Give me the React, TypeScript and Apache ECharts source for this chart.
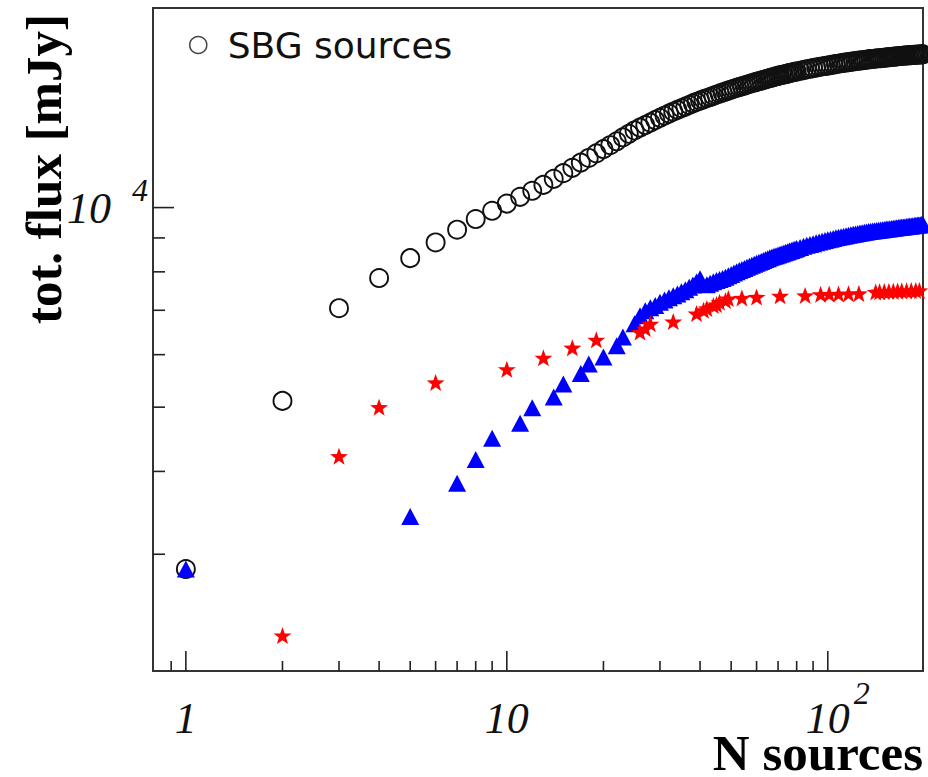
import React, { useEffect, useRef } from "react";
import * as echarts from "echarts";

// axis ranges (log axes)
const X_MIN = 0.79;
const X_MAX = 198;
const Y_MIN = 2000;
const Y_MAX = 20000;

// SBG sources (open circles)
const sbgN = [
  1, 2, 3, 4, 5, 6, 7, 8, 9, 10, 11, 12, 13, 14, 15, 16, 17, 18, 19, 20,
  21, 22, 23, 24, 25, 26, 27, 28, 29, 30, 31, 32, 33, 34, 35, 36, 37, 38, 39, 40,
  41, 42, 43, 44, 45, 46, 47, 48, 49, 50, 51, 52, 53, 54, 55, 56, 57, 58, 59, 60,
  61, 62, 63, 64, 65, 66, 67, 68, 69, 70, 71, 72, 73, 74, 75, 76, 77, 78, 79, 80,
  82, 84, 86, 88, 90, 92, 94, 96, 98, 100, 102, 104, 106, 108, 110, 112, 114, 116, 118, 120,
  122, 124, 126, 128, 130, 132, 134, 136, 138, 140, 142, 144, 146, 148, 150, 152, 154, 156, 158, 160,
  162, 164, 166, 168, 170, 172, 174, 176, 178, 180, 182, 184, 186, 188, 190, 192, 194, 196, 198,
];
const sbgFlux = [
  2850, 5110, 7050, 7830, 8390, 8860, 9260, 9610, 9890, 10140, 10380, 10600, 10820, 11050, 11270, 11480, 11690, 11880, 12070, 12250,
  12420, 12590, 12760, 12920, 13070, 13200, 13320, 13430, 13550, 13660, 13760, 13860, 13950, 14040, 14120, 14200, 14280, 14360, 14430, 14500,
  14560, 14620, 14680, 14740, 14800, 14860, 14910, 14960, 15010, 15060, 15110, 15160, 15200, 15240, 15280, 15320, 15360, 15400, 15440, 15480,
  15510, 15540, 15575, 15610, 15645, 15680, 15710, 15740, 15770, 15800, 15825, 15850, 15875, 15900, 15925, 15950, 15975, 16000, 16020, 16040,
  16080, 16120, 16160, 16195, 16230, 16260, 16295, 16325, 16350, 16375, 16400, 16430, 16455, 16480, 16510, 16530, 16550, 16570, 16590, 16610,
  16630, 16650, 16665, 16680, 16695, 16710, 16730, 16745, 16755, 16770, 16785, 16795, 16800, 16815, 16825, 16840, 16855, 16865, 16870, 16885,
  16895, 16900, 16915, 16925, 16930, 16945, 16955, 16960, 16965, 16975, 16980, 16985, 16995, 17000, 17005, 17015, 17020, 17025, 17030,
];

// blue triangles
const blueN = [
  1, 5, 7, 8, 9, 11, 12, 14, 15, 17, 18, 20, 22, 23, 25, 26, 27, 28, 29, 30,
  31, 32, 33, 34, 35, 36, 37, 38, 39, 40,
  42, 43, 44, 45, 46, 47, 48, 49, 50, 51, 52, 53, 54, 55, 56, 57, 58, 59, 60,
  61, 62, 63, 64, 65, 66, 67, 68, 69, 70, 71, 72, 73, 74, 75, 76, 77, 78, 79, 80,
  82, 84, 86, 88, 90, 92, 94, 96, 98, 100, 102, 104, 106, 108, 110, 112, 114, 116, 118, 120,
  122, 124, 126, 128, 130, 132, 134, 136, 138, 140, 142, 144, 146, 148, 150, 152, 154, 156, 158, 160,
  162, 164, 166, 168, 170, 172, 174, 176, 178, 180, 182, 184, 186, 188, 190, 192, 194, 196, 198,
];
const blueFlux = [
  2850, 3420, 3840, 4170, 4490, 4730, 4990, 5180, 5420, 5620, 5810, 5950, 6190, 6380, 6680, 6870, 6990, 7060, 7120, 7200,
  7255, 7310, 7360, 7410, 7465, 7520, 7580, 7640, 7720, 7810,
  7650, 7690, 7727, 7760, 7790, 7820, 7852, 7890, 7925, 7965, 8004, 8035, 8065, 8096, 8127, 8156, 8185, 8213, 8241,
  8268, 8295, 8322, 8349, 8375, 8401, 8422, 8443, 8462, 8482, 8501, 8521, 8540, 8560, 8580, 8600, 8618, 8636, 8654, 8672,
  8707, 8740, 8770, 8797, 8823, 8849, 8874, 8897, 8918, 8940, 8962, 8984, 9005, 9023, 9039, 9055, 9069, 9083, 9098, 9112,
  9125, 9139, 9152, 9165, 9178, 9190, 9201, 9211, 9220, 9229, 9237, 9245, 9254, 9263, 9271, 9280, 9287, 9294, 9303, 9310,
  9317, 9324, 9331, 9338, 9344, 9351, 9358, 9363, 9370, 9377, 9383, 9390, 9397, 9402, 9409, 9416, 9422, 9427, 9432,
];

// red stars
const redN = [
  2, 3, 4, 6, 10, 13, 16, 19, 26, 27, 28, 33, 39, 41, 42, 44, 45, 46, 48, 49, 54, 60, 71, 85,
  95, 101, 108, 116, 125, 141, 145, 150, 155, 160, 165, 170, 176, 182, 188, 193,
];
const redFlux = [
  2262, 4218, 5000, 5447, 5703, 5935, 6146, 6317, 6490, 6570, 6678, 6730, 6920, 7000, 7043, 7115, 7140, 7200, 7240, 7290, 7308, 7330, 7360, 7370,
  7400, 7405, 7410, 7415, 7420, 7460, 7465, 7470, 7475, 7480, 7485, 7490, 7490, 7495, 7500, 7500,
];

// ticks and tick labels
const xMajorTicks = [1, 10, 100];
const xMinorTicks = [0.9, 2, 3, 4, 5, 6, 7, 8, 9, 20, 30, 40, 50, 60, 70, 80, 90];
const yMajorTicks = [10000];
const yMinorTicks = [3000, 4000, 5000, 6000, 7000, 8000, 9000];
const xLabelValues = [1, 10, 100];
const xLabelBase = ["1", "10", "10"];
const xLabelExp = ["", "", "2"];
const yLabelValues = [10000];
const yLabelBase = ["10"];
const yLabelExp = ["4"];

const STAR =
  "path://M0,-10 L2.35,-3.24 L9.51,-3.09 L3.8,1.24 L5.88,8.09 L0,4 L-5.88,8.09 L-3.8,1.24 L-9.51,-3.09 L-2.35,-3.24 Z";

const TICK_COLOR = "#222";
const LABEL_FONT = 'italic 44px "Liberation Serif"';
const EXP_FONT = 'italic 32px "Liberation Serif"';

function tickSeries(values: number[], axis: "x" | "y", len: number) {
  return {
    type: "custom",
    silent: true,
    z: 5,
    data: values.map((v) => (axis === "x" ? [v, Y_MIN] : [X_MIN, v])),
    renderItem: (_params: any, api: any) => {
      const p = api.coord([api.value(0), api.value(1)]);
      return {
        type: "line",
        shape: {
          x1: p[0],
          y1: p[1],
          x2: axis === "x" ? p[0] : p[0] + len,
          y2: axis === "x" ? p[1] - len : p[1],
        },
        style: { stroke: TICK_COLOR, lineWidth: 1.6 },
      };
    },
  };
}

function textEl(text: string, x: number, y: number, font: string, align: string, vAlign: string) {
  return {
    type: "text",
    x,
    y,
    style: {
      text,
      font,
      fill: "#111",
      align,
      verticalAlign: vAlign,
      textAlign: align,
      textVerticalAlign: vAlign,
    },
  };
}

export default function App() {
  const ref = useRef<HTMLDivElement>(null);

  useEffect(() => {
    if (!ref.current) return;
    const chart = echarts.init(ref.current, null, { renderer: "svg" });

    const option: any = {
      animation: false,
      backgroundColor: "#ffffff",
      grid: {
        left: 153,
        right: 5,
        top: 8,
        bottom: 106,
        show: true,
        borderColor: "#333",
        borderWidth: 2,
        backgroundColor: "transparent",
      },
      legend: {
        left: 184,
        top: 21,
        data: [{ name: "SBG sources", icon: "circle" }],
        itemWidth: 17,
        itemHeight: 17,
        itemStyle: { color: "rgba(0,0,0,0)", borderColor: "#444", borderWidth: 1.5, opacity: 1 },
        textStyle: {
          fontFamily: "DejaVu Sans",
          fontSize: 36,
          color: "#111",
          padding: [0, 0, 0, 16],
          lineHeight: 38,
        },
        selectedMode: false,
      },
      xAxis: {
        type: "log",
        logBase: 10,
        min: X_MIN,
        max: X_MAX,
        axisLine: { show: false },
        axisTick: { show: false },
        axisLabel: { show: false },
        splitLine: { show: false },
        minorTick: { show: false },
      },
      yAxis: {
        type: "log",
        logBase: 10,
        min: Y_MIN,
        max: Y_MAX,
        axisLine: { show: false },
        axisTick: { show: false },
        axisLabel: { show: false },
        splitLine: { show: false },
        minorTick: { show: false },
      },
      graphic: [
        {
          type: "text",
          x: 923,
          y: 753,
          style: {
            text: "N sources",
            font: 'bold 51px "Liberation Serif"',
            fill: "#000",
            textAlign: "right",
            textVerticalAlign: "middle",
            align: "right",
            verticalAlign: "middle",
          },
        },
        {
          type: "text",
          x: 44,
          y: 169,
          rotation: Math.PI / 2,
          style: {
            text: "tot. flux [mJy]",
            font: 'bold 51px "Liberation Serif"',
            fill: "#000",
            textAlign: "center",
            textVerticalAlign: "middle",
            align: "center",
            verticalAlign: "middle",
          },
        },
      ],
      series: [
        {
          name: "SBG sources",
          type: "scatter",
          symbol: "circle",
          symbolSize: 18,
          data: sbgN.map((n, i) => [n, sbgFlux[i]]),
          itemStyle: { color: "rgba(0,0,0,0)", borderColor: "#111", borderWidth: 1.9, opacity: 1 },
          z: 2,
        },
        {
          name: "blue",
          type: "scatter",
          symbol: "triangle",
          symbolSize: [18, 17],
          data: blueN.map((n, i) => [n, blueFlux[i]]),
          itemStyle: { color: "#0000ff", opacity: 1 },
          z: 3,
        },
        {
          name: "red",
          type: "scatter",
          symbol: STAR,
          symbolSize: [18, 17],
          data: redN.map((n, i) => [n, redFlux[i]]),
          itemStyle: { color: "#ff0000", opacity: 1 },
          z: 4,
        },
        tickSeries(xMajorTicks, "x", 20),
        tickSeries(xMinorTicks, "x", 10),
        tickSeries(yMajorTicks, "y", 21),
        tickSeries(yMinorTicks, "y", 12),
        {
          type: "custom",
          silent: true,
          z: 5,
          data: xLabelValues.map((v) => [v, Y_MIN]),
          renderItem: (params: any, api: any) => {
            const p = api.coord([api.value(0), api.value(1)]);
            const i = params.dataIndex;
            const children: any[] = [textEl(xLabelBase[i], p[0], p[1] + 47, LABEL_FONT, "center", "middle")];
            if (xLabelExp[i]) {
              children.push(textEl(xLabelExp[i], p[0] + 26, p[1] + 22, EXP_FONT, "left", "middle"));
            }
            return { type: "group", children };
          },
        },
        {
          type: "custom",
          silent: true,
          z: 5,
          data: yLabelValues.map((v) => [X_MIN, v]),
          renderItem: (params: any, api: any) => {
            const p = api.coord([api.value(0), api.value(1)]);
            const i = params.dataIndex;
            return {
              type: "group",
              children: [
                textEl(yLabelBase[i], p[0] - 42, p[1] + 1, LABEL_FONT, "right", "middle"),
                textEl(yLabelExp[i], p[0] - 5, p[1] - 18, EXP_FONT, "right", "middle"),
              ],
            };
          },
        },
      ],
    };

    chart.setOption(option);
    return () => chart.dispose();
  }, []);

  return <div ref={ref} style={{ width: 928, height: 777, position: "absolute", left: 0, top: 0 }} />;
}
